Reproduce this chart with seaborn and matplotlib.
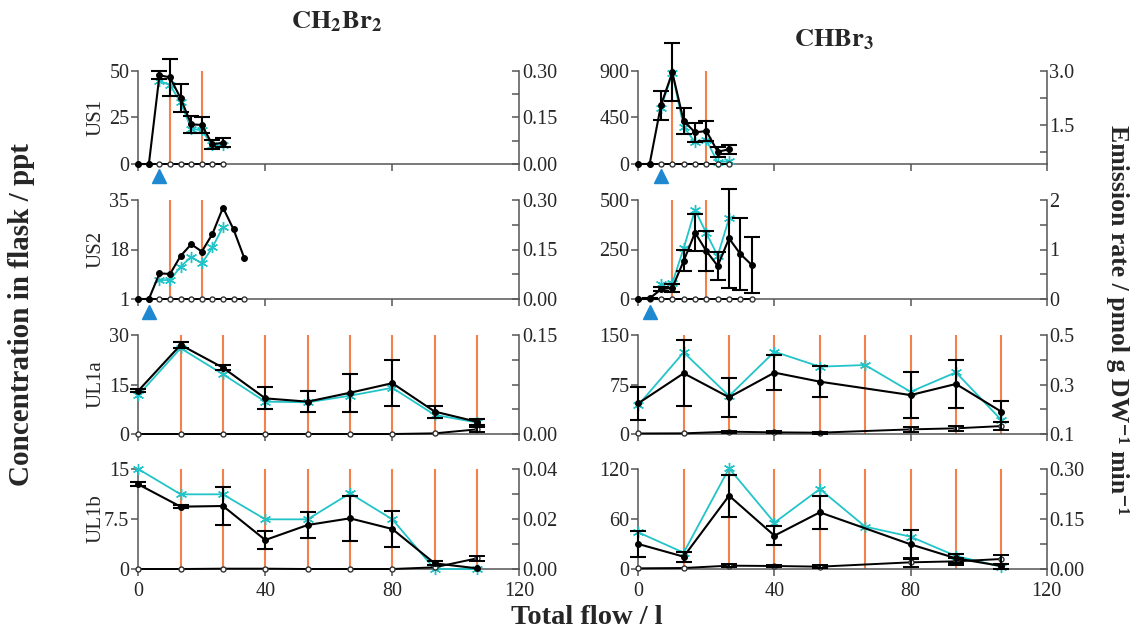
import numpy as np
import pandas as pd
import matplotlib
matplotlib.use("Agg")
import matplotlib.pyplot as plt
import matplotlib.transforms as mtransforms
import seaborn as sns

nan = np.nan

# ---------------- data ----------------
# total flow positions (l)
FLOW_US1 = [0, 3.33, 6.67, 10, 13.33, 16.67, 20, 23.33, 26.67]
FLOW_US2 = [0, 3.33, 6.67, 10, 13.33, 16.67, 20, 23.33, 26.67, 30, 33.33]
FLOW_UL = [0, 13.33, 26.67, 40, 53.33, 66.67, 80, 93.33, 106.67]

# flushing events (vertical orange lines)
FLUSH_US = [10, 20]
FLUSH_UL = [13.33, 26.67, 40, 53.33, 66.67, 80, 93.33, 106.67]

# start marker (triangle)
START_US1 = 6.67
START_US2 = 3.33

# ---- CH2Br2 ----
US1_CH2BR2_CONC = [0, 0, 47.6, 46.4, 35.2, 21.3, 20.9, 10.5, 11.4]
US1_CH2BR2_ERR = [nan, nan, 2.3, 10.0, 7.5, 4.5, 4.5, 2.2, 2.5]
US1_CH2BR2_EMIS = [nan, nan, 44.5, 42.3, 33.0, 19.0, 18.0, 10.0, 10.0]
US1_CH2BR2_BLANK = [0, 0, 0, 0, 0, 0, 0, 0, 0]
US1_CH2BR2_BLANK_ERR = [nan, nan, nan, nan, nan, nan, nan, nan, nan]

US2_CH2BR2_CONC = [1, 1, 9.8, 9.6, 15.8, 19.8, 17.3, 23.3, 32.4, 24.9, 15.2]
US2_CH2BR2_ERR = [nan, nan, nan, nan, nan, nan, nan, nan, nan, nan, nan]
US2_CH2BR2_EMIS = [nan, nan, 7.5, 7.5, 12.1, 15.5, 13.2, 18.7, 25.8, nan, nan]
US2_CH2BR2_BLANK = [1, 1, 1, 1, 1, 1, 1, 1, 1, 1, 1]
US2_CH2BR2_BLANK_ERR = [nan, nan, nan, nan, nan, nan, nan, nan, nan, nan, nan]

UL1A_CH2BR2_CONC = [13.1, 27.0, 20.1, 10.8, 9.8, 12.5, 15.4, 6.8, 3.7]
UL1A_CH2BR2_ERR = [0.5, 1.0, 0.7, 3.3, 3.2, 5.7, 6.9, 1.8, 0.9]
UL1A_CH2BR2_EMIS = [11.8, 26.0, 18.1, 9.8, 9.6, 11.6, 14.0, 5.8, 3.5]
UL1A_CH2BR2_BLANK = [0, 0, 0, 0, 0, 0, 0, 0.2, 1.4]
UL1A_CH2BR2_BLANK_ERR = [nan, nan, nan, nan, nan, nan, nan, nan, 0.7]

UL1B_CH2BR2_CONC = [12.7, 9.35, 9.45, 4.35, 6.6, 7.6, 6.0, 0.85, 0.1]
UL1B_CH2BR2_ERR = [0.3, 0.2, 2.9, 1.35, 2.0, 3.4, 2.7, 0.3, nan]
UL1B_CH2BR2_EMIS = [15.0, 11.2, 11.2, 7.45, 7.45, 11.35, 7.45, 0, 0]
UL1B_CH2BR2_BLANK = [0, 0, 0.05, 0.05, 0, 0, 0, 0.25, 1.6]
UL1B_CH2BR2_BLANK_ERR = [nan, nan, nan, nan, nan, nan, nan, nan, 0.35]

# ---- CHBr3 ----
US1_CHBR3_CONC = [0, 0, 569, 884, 415, 305, 318, 119, 141]
US1_CHBR3_ERR = [nan, nan, 140, 280, 130, 95, 100, 48, 45]
US1_CHBR3_EMIS = [nan, nan, 543, 874, 360, 209, 231, 16, 29]
US1_CHBR3_BLANK = [0, 0, 0, 0, 0, 0, 0, 0, 0]
US1_CHBR3_BLANK_ERR = [nan, nan, nan, nan, nan, nan, nan, nan, nan]

US2_CHBR3_CONC = [0, 3, 49, 57, 192, 335, 242, 167, 306, 227, 172]
US2_CHBR3_ERR = [nan, 4, 10, 20, 53, 95, 103, 69, 250, 180, 140]
US2_CHBR3_EMIS = [nan, nan, 74, 81, 256, 450, 332, 219, 407, nan, nan]
US2_CHBR3_BLANK = [0, 0, 0, 0, 0, 0, 0, 0, 0, 0, 0]
US2_CHBR3_BLANK_ERR = [nan, nan, nan, nan, nan, nan, nan, nan, nan, nan, nan]

UL1A_CHBR3_CONC = [46.5, 92, 55.6, 93, 79.3, nan, 59, 75.8, 33.8]
UL1A_CHBR3_ERR = [25, 50, 30, 27, 23, nan, 35, 36, 16]
UL1A_CHBR3_EMIS = [44, 123.7, 57.6, 124.7, 102, 104.5, 64, 93.4, 21.2]
UL1A_CHBR3_BLANK = [0.8, 1.0, 3.5, 2.5, 2.0, nan, 7.0, 8.6, 12.0]
UL1A_CHBR3_BLANK_ERR = [nan, nan, 1.5, 1.5, 1.5, nan, 4.0, 4.0, 6.0]

UL1B_CHBR3_CONC = [30, 14.8, 88, 40, 68, nan, 29.6, 12.8, 3.6]
UL1B_CHBR3_ERR = [16, 6, 25, 11.5, 20, nan, 17, 5, 3]
UL1B_CHBR3_EMIS = [44, 19.6, 120.8, 55.6, 96, 50.8, 38.8, 15.6, 2.8]
UL1B_CHBR3_BLANK = [0.8, 1.2, 4.0, 3.6, 2.8, nan, 8.0, 9.2, 12.0]
UL1B_CHBR3_BLANK_ERR = [nan, nan, 1.5, 1.5, 1.5, nan, 5.0, 4.0, 5.4]

# ---------------- style ----------------
sns.set_theme(style="ticks")
plt.rcParams["font.family"] = ["Liberation Serif", "DejaVu Serif"]
plt.rcParams["mathtext.fontset"] = "stix"

ORANGE = "#f4804a"
CYAN = "#22c4c8"
BLUE = "#1e88d0"
SPINE = "#555555"
TICK_FS = 14.5

fig = plt.figure(figsize=(11.43, 6.33), dpi=100)

LEFT_X0, LEFT_W = 138.3 / 1143, 381.0 / 1143
RIGHT_X0, RIGHT_W = 638.3 / 1143, 408.4 / 1143
ROWS = [(70.7, 164.0), (200.0, 299.0), (335.0, 434.0), (469.0, 569.0)]


def make_ax(x0, w, row):
    top, bot = ROWS[row]
    return fig.add_axes([x0, 1 - bot / 633, w, (bot - top) / 633])


def draw_panel(ax, flow, conc, err, emis, blank, blank_err, flushes,
               ylim, yticks, yticklabels, rlim, rticks, rlabels, rminor,
               start=None, bottom=False):
    df = pd.DataFrame({"flow": flow, "conc": conc, "err": err,
                       "emis": emis, "blank": blank, "berr": blank_err})
    for f in flushes:
        ax.axvline(f, color=ORANGE, lw=1.5, zorder=1)

    d = df.dropna(subset=["emis"])
    sns.lineplot(data=d, x="flow", y="emis", ax=ax, color=CYAN, lw=1.3,
                 marker=(6, 2, 0), markersize=8, markeredgecolor=CYAN,
                 markeredgewidth=1.0, estimator=None, sort=False,
                 clip_on=False, zorder=3)

    d = df.dropna(subset=["blank"])
    sns.lineplot(data=d, x="flow", y="blank", ax=ax, color="black", lw=1.4,
                 marker="o", markersize=3.6, markerfacecolor="white",
                 markeredgecolor="#333333", markeredgewidth=1.0,
                 estimator=None, sort=False, clip_on=False, zorder=4)
    d = df.dropna(subset=["berr"])
    if len(d):
        ax.errorbar(d["flow"], d["blank"], yerr=d["berr"], fmt="none",
                    ecolor="black", elinewidth=1.4, capsize=5.5,
                    capthick=1.4, zorder=4, clip_on=False)

    d = df.dropna(subset=["conc"])
    sns.lineplot(data=d, x="flow", y="conc", ax=ax, color="black", lw=1.5,
                 marker="o", markersize=4.2, markeredgecolor="black",
                 estimator=None, sort=False, clip_on=False, zorder=5)
    d = df.dropna(subset=["err"])
    if len(d):
        ax.errorbar(d["flow"], d["conc"], yerr=d["err"], fmt="none",
                    ecolor="black", elinewidth=1.5, capsize=5.5,
                    capthick=1.5, zorder=5, clip_on=False)

    if start is not None:
        tr = mtransforms.blended_transform_factory(ax.transData, ax.transAxes)
        ax.plot([start], [-0.13], marker="^", color=BLUE, markersize=10,
                transform=tr, clip_on=False, linestyle="none")

    ax.set_xlim(0, 120)
    ax.set_ylim(*ylim)
    ax.set_xticks([0, 40, 80, 120])
    if bottom:
        ax.set_xticklabels(["0", "40", "80", "120"], fontsize=TICK_FS)
    else:
        ax.set_xticklabels([])
    ax.set_yticks(yticks)
    ax.set_yticklabels(yticklabels, fontsize=TICK_FS)
    ax.set_xlabel("")
    ax.set_ylabel("")
    ax.tick_params(axis="both", direction="out", length=5, width=1.1,
                   color=SPINE, pad=1.5, labelsize=TICK_FS)
    ax.tick_params(axis="x", pad=4)
    for s in ["top", "right"]:
        ax.spines[s].set_visible(False)
    for s in ["left", "bottom"]:
        ax.spines[s].set_color(SPINE)
        ax.spines[s].set_linewidth(1.1)

    ax2 = ax.twinx()
    ax2.set_ylim(*rlim)
    ax2.set_yticks(rticks)
    ax2.set_yticklabels(rlabels, fontsize=TICK_FS)
    ax2.set_yticks(rminor, minor=True)
    ax2.tick_params(axis="y", which="both", direction="in", length=5,
                    width=1.1, color=SPINE, pad=2, labelsize=TICK_FS)
    for s in ["top", "left", "bottom"]:
        ax2.spines[s].set_visible(False)
    ax2.spines["right"].set_color(SPINE)
    ax2.spines["right"].set_linewidth(1.1)
    ax2.grid(False)
    ax.grid(False)


# ---- left column: CH2Br2 ----
ax = make_ax(LEFT_X0, LEFT_W, 0)
draw_panel(ax, FLOW_US1, US1_CH2BR2_CONC, US1_CH2BR2_ERR, US1_CH2BR2_EMIS,
           US1_CH2BR2_BLANK, US1_CH2BR2_BLANK_ERR, FLUSH_US,
           (0, 50), [0, 25, 50], ["0", "25", "50"],
           (0, 0.30), [0, 0.15, 0.30], ["0.00", "0.15", "0.30"], [0.075, 0.225],
           start=START_US1)

ax = make_ax(LEFT_X0, LEFT_W, 1)
draw_panel(ax, FLOW_US2, US2_CH2BR2_CONC, US2_CH2BR2_ERR, US2_CH2BR2_EMIS,
           US2_CH2BR2_BLANK, US2_CH2BR2_BLANK_ERR, FLUSH_US,
           (1, 35), [1, 18, 35], ["1", "18", "35"],
           (0, 0.30), [0, 0.15, 0.30], ["0.00", "0.15", "0.30"], [0.075, 0.225],
           start=START_US2)

ax = make_ax(LEFT_X0, LEFT_W, 2)
draw_panel(ax, FLOW_UL, UL1A_CH2BR2_CONC, UL1A_CH2BR2_ERR, UL1A_CH2BR2_EMIS,
           UL1A_CH2BR2_BLANK, UL1A_CH2BR2_BLANK_ERR, FLUSH_UL,
           (0, 30), [0, 15, 30], ["0", "15", "30"],
           (0, 0.15), [0, 0.15], ["0.00", "0.15"], [0.0375, 0.075, 0.1125])

ax = make_ax(LEFT_X0, LEFT_W, 3)
draw_panel(ax, FLOW_UL, UL1B_CH2BR2_CONC, UL1B_CH2BR2_ERR, UL1B_CH2BR2_EMIS,
           UL1B_CH2BR2_BLANK, UL1B_CH2BR2_BLANK_ERR, FLUSH_UL,
           (0, 15), [0, 7.5, 15], ["0", "7.5", "15"],
           (0, 0.04), [0, 0.02, 0.04], ["0.00", "0.02", "0.04"], [0.01, 0.03],
           bottom=True)

# ---- right column: CHBr3 ----
ax = make_ax(RIGHT_X0, RIGHT_W, 0)
draw_panel(ax, FLOW_US1, US1_CHBR3_CONC, US1_CHBR3_ERR, US1_CHBR3_EMIS,
           US1_CHBR3_BLANK, US1_CHBR3_BLANK_ERR, FLUSH_US,
           (0, 900), [0, 450, 900], ["0", "450", "900"],
           (0.42, 3.0), [1.5, 3.0], ["1.5", "3.0"], [0.75, 2.25],
           start=START_US1)

ax = make_ax(RIGHT_X0, RIGHT_W, 1)
draw_panel(ax, FLOW_US2, US2_CHBR3_CONC, US2_CHBR3_ERR, US2_CHBR3_EMIS,
           US2_CHBR3_BLANK, US2_CHBR3_BLANK_ERR, FLUSH_US,
           (0, 500), [0, 250, 500], ["0", "250", "500"],
           (0, 2), [0, 1, 2], ["0", "1", "2"], [0.5, 1.5],
           start=START_US2)

ax = make_ax(RIGHT_X0, RIGHT_W, 2)
draw_panel(ax, FLOW_UL, UL1A_CHBR3_CONC, UL1A_CHBR3_ERR, UL1A_CHBR3_EMIS,
           UL1A_CHBR3_BLANK, UL1A_CHBR3_BLANK_ERR, FLUSH_UL,
           (0, 150), [0, 75, 150], ["0", "75", "150"],
           (0.1, 0.5), [0.1, 0.3, 0.5], ["0.1", "0.3", "0.5"], [0.2, 0.4])

ax = make_ax(RIGHT_X0, RIGHT_W, 3)
draw_panel(ax, FLOW_UL, UL1B_CHBR3_CONC, UL1B_CHBR3_ERR, UL1B_CHBR3_EMIS,
           UL1B_CHBR3_BLANK, UL1B_CHBR3_BLANK_ERR, FLUSH_UL,
           (0, 120), [0, 60, 120], ["0", "60", "120"],
           (0, 0.30), [0, 0.15, 0.30], ["0.00", "0.15", "0.30"], [0.075, 0.225],
           bottom=True)

# ---- labels ----
fig.text(337 / 1143, 1 - 22 / 633, r"$\mathbf{CH_2Br_2}$", ha="center",
         va="center", fontsize=19)
fig.text(834 / 1143, 1 - 40 / 633, r"$\mathbf{CHBr_3}$", ha="center",
         va="center", fontsize=19)

for lab, (top, bot) in zip(["US1", "US2", "UL1a", "UL1b"], ROWS):
    fig.text(96 / 1143, 1 - (top + bot) / 2 / 633, lab, rotation=90,
             ha="center", va="center", fontsize=15)

fig.text(22 / 1143, 1 - 315 / 633, "Concentration in flask / ppt",
         rotation=90, ha="center", va="center", fontsize=21,
         fontweight="bold")
fig.text(1118 / 1143, 1 - 320 / 633,
         "Emission rate / pmol g DW\u207b\u00b9 min\u207b\u00b9",
         rotation=270, ha="center", va="center", fontsize=18.5,
         fontweight="bold")
fig.text(587 / 1143, 1 - 618 / 633, "Total flow / l", ha="center",
         va="center", fontsize=20.5, fontweight="bold")

fig.savefig("out.png", dpi=100)
